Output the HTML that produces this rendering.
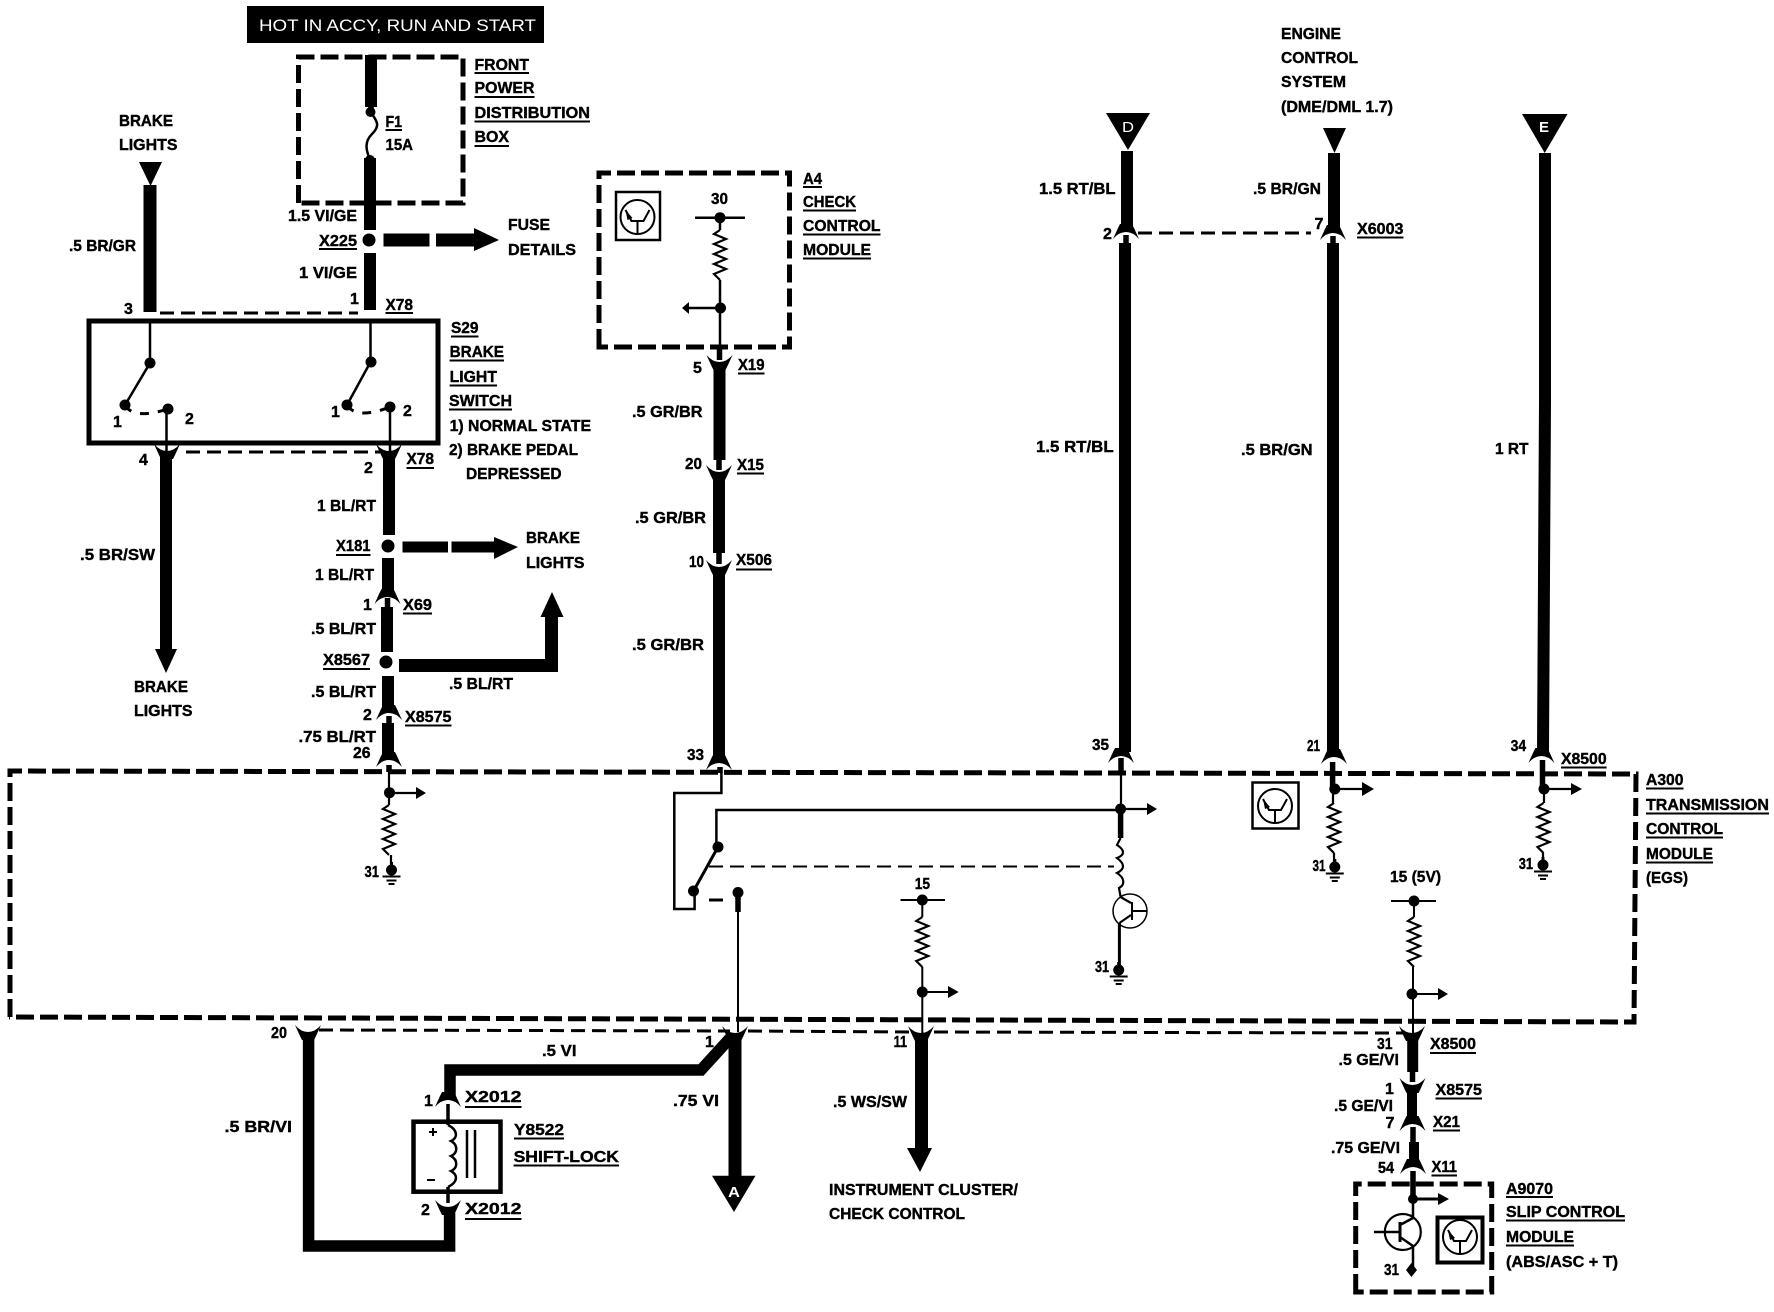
<!DOCTYPE html>
<html><head><meta charset="utf-8"><style>
html,body{margin:0;padding:0;background:#fff}
svg{display:block}
text{font-family:"Liberation Sans",sans-serif;font-weight:bold;font-size:16px;fill:#000}
.lbl text{stroke:#000;stroke-width:.4px;font-size:16px !important}
.w{fill:none;stroke:#000}
</style></head><body>
<svg width="1774" height="1312" viewBox="0 0 1774 1312" xmlns="http://www.w3.org/2000/svg">
<defs>
<path id="y" d="M-13,-7Q-7,0 0,0Q7,0 13,-7L8,4L6,8L-6,8L-8,4Z"/>
<path id="a" d="M-13,7Q-7,0 0,0Q7,0 13,7L8,-4L6,-8L-6,-8L-8,-4Z"/>
<path id="r" class="w" stroke-width="2.2" d="M0,0L-6,4L6,9L-6,14L6,19L-6,24L6,29L-6,34L6,39L-6,44L0,50"/>
<g id="g"><circle cx="0" cy="0" r="5.5"/><path d="M0,-8V4" stroke="#000" stroke-width="3"/><path class="w" stroke-width="2" d="M-9,6.5H9M-5,10.5H5M-3,14H3"/></g>
<g id="ic"><circle class="w" stroke-width="2" cx="0" cy="0" r="17"/><path class="w" stroke-width="2" d="M-12,-7L-6,4H6L12,-7M0,4V16"/><path d="M-12,-7L-10,3L-5,1Z"/></g>
</defs>

<rect x="247" y="6" width="297" height="37"/>
<text x="259" y="31" textLength="277" lengthAdjust="spacingAndGlyphs" style="fill:#fff;font-weight:normal;font-size:16.5px">HOT IN ACCY, RUN AND START</text>

<!-- dashed boxes -->
<g class="w" stroke-width="5" stroke-dasharray="18 6">
<path d="M298.5,203V57H463V203Z"/>
<path d="M599,347V173H789.5V347Z"/>
<path d="M10,1017V771L1636,774L1634,1022L9,1017"/>
<path d="M1355.7,1292V1184H1491.7V1292Z"/>
</g>
<g class="w" stroke-width="3" stroke-dasharray="14 7">
<path d="M160,313H358"/>
<path d="M186,452H380"/>
<path d="M1138,233H1311"/>
<path d="M319,1030L730,1031M748,1031L912,1032M934,1032L1403,1033"/>
<path d="M709,866.5H1114" stroke-width="2"/>
<path d="M709,900H723"/>
<path d="M125,405Q133,420 168,409" stroke-dasharray="9 9"/>
<path d="M347,405Q356,420 390,407" stroke-dasharray="9 9"/>
</g>

<!-- top left wires -->
<g class="w" stroke-width="12">
<path d="M371,55V107"/><path d="M370,158V230"/><path d="M370,253V310"/>
<path d="M150,185V312" stroke-width="13"/>
<path d="M166,457V650"/>
<path d="M389,457V535"/><path d="M388,558V596"/><path d="M387,607V652"/><path d="M388,676V710"/><path d="M388,723V757"/>
<path d="M383.5,240H429.5M436,240H474" stroke-width="13"/>
<path d="M402.5,547H448M451.5,547H494" stroke-width="11"/>
<path d="M399,665.5H551.5V616" stroke-width="13"/>
<path d="M719.5,367V460"/><path d="M719,473V553"/><path d="M719,574V762"/>
<path d="M1127,151V228"/><path d="M1125,243V752"/>
<path d="M1334,153V228"/><path d="M1333,243V752"/>
<path d="M1545,153V400L1543,752"/>
<path d="M308.6,1036V1246H449.6V1213" stroke-width="11.5"/>
<path d="M450,1097V1070H701L732,1036" stroke-width="11.5"/>
<path d="M735,1036V1177" stroke-width="13"/>
<path d="M921.5,1036V1150" stroke-width="13"/>
<path d="M1412.7,1036V1072" stroke-width="11"/><path d="M1412,1090V1118" stroke-width="10"/><path d="M1414,1142V1163" stroke-width="10"/>
</g>
<g class="w" stroke-width="5.5">
<path d="M387.5,598V608M389,716V724M389,765V772"/>
<path d="M719.5,347V360M719,460V470M719,553V564M720,767V773"/>
<path d="M1126,235V243M1333,236V243M1121,758V773M1332.6,762V789M1542.5,760V789"/>
<path d="M1412.5,1072V1082M1413,1127V1142M1413,1171V1197"/>
<path d="M371,107V112M370,160"/>
<path d="M738,892V912M1120.6,809V838"/>
</g>

<!-- connectors -->
<g>
<use href="#y" x="167" y="451"/><use href="#y" x="389" y="451"/><use href="#y" x="719.5" y="362"/><use href="#y" x="719" y="472"/><use href="#y" x="719" y="567"/>
<use href="#y" x="308" y="1032"/><use href="#y" x="735" y="1033"/><use href="#y" x="921" y="1033"/><use href="#y" x="1412" y="1033"/><use href="#y" x="1412.5" y="1085"/><use href="#y" x="448" y="1207"/>
<use href="#a" x="387.5" y="597"/><use href="#a" x="389" y="713"/><use href="#a" x="389" y="760"/><use href="#a" x="719" y="763"/><use href="#a" x="1121" y="756"/><use href="#a" x="1334" y="757"/><use href="#a" x="1541.4" y="756"/><use href="#a" x="1126" y="232"/><use href="#a" x="1333" y="233"/><use href="#a" x="448" y="1100"/><use href="#a" x="1412.5" y="1124"/><use href="#a" x="1413" y="1167"/>
</g>

<!-- arrows, triangles -->
<path d="M474,228L499,240L474,251Z"/>
<path d="M494,537L518,547L494,559Z"/>
<path d="M540.5,617H563.5L552,592Z"/>
<path d="M155,649H177L166,673Z"/>
<path d="M139,162H162L150.5,186Z"/>
<path d="M1323,128H1346L1334.5,153Z"/>
<path d="M1106,113H1150L1128,150Z"/>
<path d="M1522,114H1567.5L1544.7,153Z"/>
<path d="M712,1175.7H755.5L734,1212Z"/>
<path d="M907,1148H932L920,1172Z"/>
<text x="1122" y="132" textLength="12" lengthAdjust="spacingAndGlyphs" style="fill:#fff;font-size:15px;font-weight:normal">D</text>
<text x="1539" y="132" textLength="10" lengthAdjust="spacingAndGlyphs" style="fill:#fff;font-size:15px">E</text>
<text x="728" y="1197" textLength="12" lengthAdjust="spacingAndGlyphs" style="fill:#fff;font-size:15px">A</text>

<!-- fuse -->
<circle cx="370.5" cy="112" r="5"/>
<circle cx="370" cy="160" r="5"/>
<path class="w" stroke-width="2.5" d="M370.5,112C378,122 380,126 372,134C364,142 366,150 370,160"/>
<circle cx="369" cy="240" r="6.5"/><circle cx="388" cy="546" r="6.5"/><circle cx="386" cy="662" r="6.5"/>

<!-- S29 -->
<rect x="89" y="321" width="349" height="122" class="w" stroke-width="5"/>
<g class="w" stroke-width="2.5">
<path d="M150,321V363L125,405"/><path d="M166.5,409V451"/>
<path d="M370.5,321V362L347,405"/><path d="M390,407V451"/>
</g>
<circle cx="150" cy="363" r="5.5"/><circle cx="125" cy="405" r="5.5"/><circle cx="168" cy="409" r="5.5"/>
<circle cx="371" cy="362" r="5.5"/><circle cx="347" cy="405" r="5.5"/><circle cx="390" cy="407" r="5.5"/>

<!-- A4 -->
<rect x="616" y="192" width="44" height="48" class="w" stroke-width="2.5"/>
<use href="#ic" x="637.5" y="217"/>
<path class="w" stroke-width="2.5" d="M695,217.7H745M720,217.7V230M720,280V347M720,308H688"/>
<use href="#r" x="720" y="230"/>
<circle cx="720" cy="217.7" r="5.5"/><circle cx="720.5" cy="308" r="5.5"/>
<path d="M689,302V314L682,308Z"/>

<!-- A300 contents -->
<path class="w" stroke-width="2.2" d="M389,772V805M389.5,793H416M391,855V866"/>
<circle cx="389.5" cy="792.7" r="5.5"/><path d="M416,787V799L426,793Z"/>
<use href="#r" x="389" y="805"/><use href="#g" x="391.5" y="870"/>

<path class="w" stroke-width="2.5" d="M721.4,772V793H674.3V909H694.6V891"/>
<path class="w" stroke-width="2.5" d="M716.4,847V810H1120.6"/>
<path class="w" stroke-width="3" d="M718,847L693.5,891"/>
<circle cx="718" cy="847" r="5.5"/><circle cx="693.5" cy="891" r="5.5"/>
<circle cx="738" cy="892.5" r="5.5"/>
<path class="w" stroke-width="2" d="M738,912V1032"/>

<path class="w" stroke-width="2.2" d="M1121,773V809M1120.6,809H1147"/>
<circle cx="1120.6" cy="809" r="5.5"/><path d="M1147,803V815L1157,809Z"/>
<path class="w" stroke-width="2.2" d="M1120.6,838L1117,845C1125,850 1125,855 1117,858C1125,864 1125,869 1117,873C1125,878 1125,885 1119,888L1120.6,897L1131,903M1131,915L1119.4,923"/>
<path class="w" stroke-width="3" d="M1119.4,923V965"/>
<circle class="w" stroke-width="1.5" cx="1130" cy="911" r="17"/>
<path class="w" stroke-width="2" d="M1132,902V920M1132,911H1147.4"/>
<use href="#g" x="1118.7" y="970"/>

<path class="w" stroke-width="2" d="M900.5,900H945M922.3,900V917M922.3,967V1034M922.3,992H948"/>
<use href="#r" x="922.3" y="917"/>
<circle cx="922.3" cy="900" r="5.5"/><circle cx="922.3" cy="992" r="5.5"/>
<path d="M948,986V998L958.7,992Z"/>

<path class="w" stroke-width="2.2" d="M1334.8,789H1364M1333,789V803M1334,853V865"/>
<use href="#r" x="1334" y="803"/>
<circle cx="1334.8" cy="789" r="5.5"/><path d="M1362,782V796L1374,789Z"/>
<use href="#g" x="1334.8" y="867"/>
<rect x="1252.5" y="782.5" width="46" height="46" class="w" stroke-width="2.5"/>
<use href="#ic" x="1275" y="806"/>

<path class="w" stroke-width="2.2" d="M1544,789H1572M1544,789V803M1543,853V865"/>
<use href="#r" x="1543.5" y="803"/>
<circle cx="1544" cy="789" r="5.5"/><path d="M1571,783V795L1582,789Z"/>
<use href="#g" x="1543" y="865"/>

<path class="w" stroke-width="2" d="M1391,901H1436M1414,901V917M1413,967V1033M1412,994H1438"/>
<use href="#r" x="1414" y="917"/>
<circle cx="1414" cy="901" r="5.5"/><circle cx="1412" cy="994" r="5.5"/>
<path d="M1438,988V1000L1448,994Z"/>

<!-- Shift lock -->
<rect x="413.5" y="1121.7" width="87" height="70" class="w" stroke-width="4.5"/>
<path class="w" stroke-width="3.5" d="M448,1104V1125M448,1187V1203"/>
<path class="w" stroke-width="2.5" d="M448,1125C458,1130 458,1138 451,1141C458,1145 458,1153 451,1156C458,1160 458,1168 451,1171C458,1175 458,1182 448,1187"/>
<path class="w" stroke-width="2.5" d="M467,1130V1178M475,1130V1178"/>
<path class="w" stroke-width="2" d="M429,1132H437M433,1128V1136M427,1180H435"/>

<!-- A9070 -->
<path class="w" stroke-width="2.5" d="M1413,1197V1218L1400,1225M1400,1237L1413,1246V1270M1374,1232H1400"/>
<path class="w" stroke-width="3" d="M1400,1222V1242M1413,1199H1438"/>
<circle class="w" stroke-width="2.2" cx="1402.8" cy="1232" r="18"/>
<circle cx="1413" cy="1199" r="5"/>
<path d="M1411.4,1263L1417,1270L1411.4,1277L1406,1270Z"/>
<path d="M1438,1193V1205L1449,1199Z"/>
<rect x="1437.5" y="1217.5" width="45" height="45" class="w" stroke-width="4"/>
<use href="#ic" x="1460" y="1237"/>

<!-- underlines -->
<path class="w" stroke-width="2" d="M474.5,73H529M474.5,97H534.5M474.5,121.5H590M474.5,146H509M385.5,130H402M319,249H357M385.5,313H413M451,336.5H478.5M449.6,360.5H504M449.6,385.5H497M449,409.5H512M406.5,468H434M336,555H370.5M403,613.5H432M323,669H370M405,725.5H451.5M803,187H822M803,210.5H856M803,234.5H880.5M803,258.5H871M738,373.5H764.5M737,473.5H764M736,569.5H772M1357,237.5H1403.5M1561,767.5H1606.6M1646,788.5H1683.5M1646,813.5H1769M1646,837.5H1723M1646,862.5H1713M465,1107H521.5M514,1138.5H564M513.6,1165.5H619M465,1219H521.5M1430,1053H1476M1435.5,1098.5H1482M1433,1130.5H1460M1431.5,1175.5H1457M1506,1197H1553M1506,1220.5H1625M1506,1245.5H1574"/>
</svg>
<svg width="1774" height="1312" viewBox="0 0 1774 1312" xmlns="http://www.w3.org/2000/svg" style="position:absolute;left:0;top:0">
<g class="lbl" transform="translate(0,-0.8)">
<text lengthAdjust="spacingAndGlyphs" x="474.5" y="71" textLength="54.5">FRONT</text>
<text lengthAdjust="spacingAndGlyphs" x="474.5" y="94" textLength="60">POWER</text>
<text lengthAdjust="spacingAndGlyphs" x="474.5" y="119" textLength="115.5">DISTRIBUTION</text>
<text lengthAdjust="spacingAndGlyphs" x="474.5" y="143" textLength="34.5">BOX</text>
<text lengthAdjust="spacingAndGlyphs" x="385.5" y="128" textLength="16.5">F1</text>
<text lengthAdjust="spacingAndGlyphs" x="385.5" y="151" textLength="27.5">15A</text>
<text lengthAdjust="spacingAndGlyphs" x="119" y="127" textLength="54">BRAKE</text>
<text lengthAdjust="spacingAndGlyphs" x="119" y="151" textLength="58.5">LIGHTS</text>
<text lengthAdjust="spacingAndGlyphs" x="69" y="252" textLength="67">.5 BR/GR</text>
<text lengthAdjust="spacingAndGlyphs" x="288" y="222" textLength="69">1.5 VI/GE</text>
<text lengthAdjust="spacingAndGlyphs" x="319" y="247" textLength="38">X225</text>
<text lengthAdjust="spacingAndGlyphs" x="299" y="279" textLength="58">1 VI/GE</text>
<text lengthAdjust="spacingAndGlyphs" x="508" y="231" textLength="42">FUSE</text>
<text lengthAdjust="spacingAndGlyphs" x="508" y="256" textLength="68">DETAILS</text>
<text x="124" y="315">3</text>
<text x="350" y="305">1</text>
<text lengthAdjust="spacingAndGlyphs" x="385.5" y="311" textLength="27.5">X78</text>
<text lengthAdjust="spacingAndGlyphs" x="451" y="334" textLength="27.5">S29</text>
<text lengthAdjust="spacingAndGlyphs" x="449.6" y="358" textLength="54.4">BRAKE</text>
<text lengthAdjust="spacingAndGlyphs" x="449.6" y="383" textLength="47.4">LIGHT</text>
<text lengthAdjust="spacingAndGlyphs" x="449" y="407" textLength="63">SWITCH</text>
<text lengthAdjust="spacingAndGlyphs" x="449.6" y="432" textLength="141.4">1) NORMAL STATE</text>
<text lengthAdjust="spacingAndGlyphs" x="449" y="456" textLength="129">2) BRAKE PEDAL</text>
<text lengthAdjust="spacingAndGlyphs" x="466" y="480" textLength="95.5">DEPRESSED</text>
<text x="113" y="428">1</text>
<text x="185" y="425">2</text>
<text x="331" y="418">1</text>
<text x="403" y="417">2</text>
<text x="139" y="466">4</text>
<text x="364" y="474">2</text>
<text lengthAdjust="spacingAndGlyphs" x="406.5" y="465" textLength="27.5">X78</text>
<text lengthAdjust="spacingAndGlyphs" x="80" y="561" textLength="75">.5 BR/SW</text>
<text lengthAdjust="spacingAndGlyphs" x="134" y="693" textLength="54">BRAKE</text>
<text lengthAdjust="spacingAndGlyphs" x="134" y="717" textLength="58.5">LIGHTS</text>
<text lengthAdjust="spacingAndGlyphs" x="317" y="512" textLength="59">1 BL/RT</text>
<text lengthAdjust="spacingAndGlyphs" x="336" y="552" textLength="34.5">X181</text>
<text lengthAdjust="spacingAndGlyphs" x="526" y="544" textLength="54">BRAKE</text>
<text lengthAdjust="spacingAndGlyphs" x="526" y="569" textLength="58.5">LIGHTS</text>
<text lengthAdjust="spacingAndGlyphs" x="315" y="581" textLength="59">1 BL/RT</text>
<text x="363" y="611">1</text>
<text lengthAdjust="spacingAndGlyphs" x="403" y="611" textLength="29">X69</text>
<text lengthAdjust="spacingAndGlyphs" x="311" y="635" textLength="65">.5 BL/RT</text>
<text lengthAdjust="spacingAndGlyphs" x="323" y="666" textLength="47">X8567</text>
<text lengthAdjust="spacingAndGlyphs" x="449" y="690" textLength="64">.5 BL/RT</text>
<text lengthAdjust="spacingAndGlyphs" x="311" y="698" textLength="65">.5 BL/RT</text>
<text x="363" y="721">2</text>
<text lengthAdjust="spacingAndGlyphs" x="405" y="723" textLength="46.5">X8575</text>
<text lengthAdjust="spacingAndGlyphs" x="298.5" y="743" textLength="77.5">.75 BL/RT</text>
<text lengthAdjust="spacingAndGlyphs" x="353" y="759" textLength="17.5">26</text>
<text lengthAdjust="spacingAndGlyphs" x="364.5" y="878" textLength="14.5">31</text>

<text lengthAdjust="spacingAndGlyphs" x="711" y="205" textLength="17">30</text>
<text lengthAdjust="spacingAndGlyphs" x="803" y="185" textLength="19">A4</text>
<text lengthAdjust="spacingAndGlyphs" x="803" y="208" textLength="53">CHECK</text>
<text lengthAdjust="spacingAndGlyphs" x="803" y="232" textLength="77.5">CONTROL</text>
<text lengthAdjust="spacingAndGlyphs" x="803" y="256" textLength="68">MODULE</text>
<text x="693" y="374">5</text>
<text lengthAdjust="spacingAndGlyphs" x="738" y="371" textLength="26.5">X19</text>
<text lengthAdjust="spacingAndGlyphs" x="632" y="418" textLength="70.5">.5 GR/BR</text>
<text lengthAdjust="spacingAndGlyphs" x="685" y="470" textLength="17">20</text>
<text lengthAdjust="spacingAndGlyphs" x="737" y="471" textLength="27">X15</text>
<text lengthAdjust="spacingAndGlyphs" x="635" y="524" textLength="71">.5 GR/BR</text>
<text lengthAdjust="spacingAndGlyphs" x="689" y="568" textLength="15">10</text>
<text lengthAdjust="spacingAndGlyphs" x="736" y="566" textLength="36">X506</text>
<text lengthAdjust="spacingAndGlyphs" x="632" y="651" textLength="72">.5 GR/BR</text>
<text lengthAdjust="spacingAndGlyphs" x="687" y="761" textLength="17">33</text>

<text lengthAdjust="spacingAndGlyphs" x="1039" y="195" textLength="76.5">1.5 RT/BL</text>
<text x="1103" y="240">2</text>
<text lengthAdjust="spacingAndGlyphs" x="1036" y="453" textLength="77.6">1.5 RT/BL</text>
<text lengthAdjust="spacingAndGlyphs" x="1092" y="751" textLength="17">35</text>
<text lengthAdjust="spacingAndGlyphs" x="1281" y="40" textLength="60">ENGINE</text>
<text lengthAdjust="spacingAndGlyphs" x="1281" y="64" textLength="77">CONTROL</text>
<text lengthAdjust="spacingAndGlyphs" x="1281" y="88" textLength="65">SYSTEM</text>
<text lengthAdjust="spacingAndGlyphs" x="1281" y="113" textLength="112">(DME/DML 1.7)</text>
<text lengthAdjust="spacingAndGlyphs" x="1253" y="195" textLength="68">.5 BR/GN</text>
<text x="1314.5" y="230">7</text>
<text lengthAdjust="spacingAndGlyphs" x="1357" y="235" textLength="46.5">X6003</text>
<text lengthAdjust="spacingAndGlyphs" x="1241" y="456" textLength="71.6">.5 BR/GN</text>
<text lengthAdjust="spacingAndGlyphs" x="1495" y="455" textLength="33.5">1 RT</text>
<text lengthAdjust="spacingAndGlyphs" x="1307" y="752" textLength="13">21</text>
<text lengthAdjust="spacingAndGlyphs" x="1510.6" y="752" textLength="15.5">34</text>
<text lengthAdjust="spacingAndGlyphs" x="1561" y="765" textLength="45.6">X8500</text>

<text lengthAdjust="spacingAndGlyphs" x="1646" y="786" textLength="37.5">A300</text>
<text lengthAdjust="spacingAndGlyphs" x="1646" y="811" textLength="123">TRANSMISSION</text>
<text lengthAdjust="spacingAndGlyphs" x="1646" y="835" textLength="77">CONTROL</text>
<text lengthAdjust="spacingAndGlyphs" x="1646" y="860" textLength="67">MODULE</text>
<text lengthAdjust="spacingAndGlyphs" x="1646" y="884" textLength="42">(EGS)</text>

<text lengthAdjust="spacingAndGlyphs" x="1095" y="973" textLength="14">31</text>
<text lengthAdjust="spacingAndGlyphs" x="914.7" y="890" textLength="15.3">15</text>
<text lengthAdjust="spacingAndGlyphs" x="1312.5" y="872" textLength="13">31</text>
<text lengthAdjust="spacingAndGlyphs" x="1518.7" y="870" textLength="14.3">31</text>
<text lengthAdjust="spacingAndGlyphs" x="1390" y="883" textLength="51">15 (5V)</text>

<text lengthAdjust="spacingAndGlyphs" x="271" y="1039" textLength="16">20</text>
<text lengthAdjust="spacingAndGlyphs" x="542" y="1057" textLength="34.5">.5 VI</text>
<text x="705" y="1048">1</text>
<text lengthAdjust="spacingAndGlyphs" x="673" y="1107" textLength="46">.75 VI</text>
<text lengthAdjust="spacingAndGlyphs" x="224.5" y="1133" textLength="67.5">.5 BR/VI</text>
<text x="424" y="1107">1</text>
<text lengthAdjust="spacingAndGlyphs" x="465" y="1103" textLength="56.5">X2012</text>
<text lengthAdjust="spacingAndGlyphs" x="514" y="1136" textLength="50">Y8522</text>
<text lengthAdjust="spacingAndGlyphs" x="513.6" y="1163" textLength="105.4">SHIFT-LOCK</text>
<text x="421" y="1216">2</text>
<text lengthAdjust="spacingAndGlyphs" x="465" y="1215" textLength="56.5">X2012</text>
<text lengthAdjust="spacingAndGlyphs" x="893.6" y="1048" textLength="13.4">11</text>
<text lengthAdjust="spacingAndGlyphs" x="833" y="1108" textLength="74">.5 WS/SW</text>
<text lengthAdjust="spacingAndGlyphs" x="829" y="1196" textLength="189">INSTRUMENT CLUSTER/</text>
<text lengthAdjust="spacingAndGlyphs" x="829" y="1220" textLength="136">CHECK CONTROL</text>

<text lengthAdjust="spacingAndGlyphs" x="1377" y="1050" textLength="15.5">31</text>
<text lengthAdjust="spacingAndGlyphs" x="1430" y="1050" textLength="46">X8500</text>
<text lengthAdjust="spacingAndGlyphs" x="1338.5" y="1066" textLength="60.5">.5 GE/VI</text>
<text x="1385" y="1095">1</text>
<text lengthAdjust="spacingAndGlyphs" x="1435.5" y="1096" textLength="46.5">X8575</text>
<text lengthAdjust="spacingAndGlyphs" x="1334" y="1112" textLength="59">.5 GE/VI</text>
<text x="1385.5" y="1129">7</text>
<text lengthAdjust="spacingAndGlyphs" x="1433" y="1128" textLength="27">X21</text>
<text lengthAdjust="spacingAndGlyphs" x="1331" y="1154" textLength="69">.75 GE/VI</text>
<text lengthAdjust="spacingAndGlyphs" x="1378" y="1174" textLength="16">54</text>
<text lengthAdjust="spacingAndGlyphs" x="1431.5" y="1173" textLength="25.5">X11</text>
<text lengthAdjust="spacingAndGlyphs" x="1384" y="1276" textLength="15">31</text>
<text lengthAdjust="spacingAndGlyphs" x="1506" y="1195" textLength="47">A9070</text>
<text lengthAdjust="spacingAndGlyphs" x="1506" y="1218" textLength="119">SLIP CONTROL</text>
<text lengthAdjust="spacingAndGlyphs" x="1506" y="1243" textLength="68">MODULE</text>
<text lengthAdjust="spacingAndGlyphs" x="1506" y="1268" textLength="112">(ABS/ASC + T)</text>
</g>
</svg>
</body></html>
